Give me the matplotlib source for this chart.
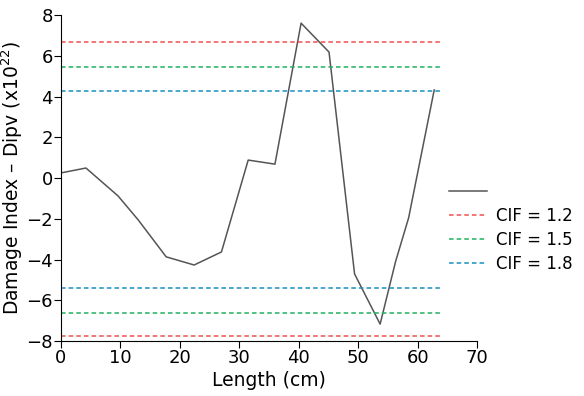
import matplotlib.pyplot as plt
import numpy as np

length = [0, 4.2, 9.6, 13.0, 17.7, 22.4, 27.0, 31.5, 36.0, 40.4, 45.1, 49.4, 53.7, 56.3, 58.5, 62.8]
dipv = [0.25, 0.49, -0.88, -2.06, -3.87, -4.27, -3.63, 0.88, 0.68, 7.6, 6.18, -4.71, -7.17, -4.1, -1.95, 4.32]

cif_labels = ["CIF = 1.2", "CIF = 1.5", "CIF = 1.8"]
cif_upper = [6.69, 5.47, 4.26]
cif_lower = [-7.75, -6.61, -5.38]
cif_colors = ["#f05050", "#20b060", "#1a8fc0"]
line_end = 63.7

plt.rcParams['font.family'] = ['DejaVu Sans']

fig = plt.figure(figsize=(5.84, 3.96), dpi=100)
ax = fig.add_axes([61/584, 1 - 341/396, 416/584, 326/396])

main, = ax.plot(length, dipv, color="#555555", lw=1.1)

handles = [main]
labels = [""]
for lab, up, lo, c in zip(cif_labels, cif_upper, cif_lower, cif_colors):
    h, = ax.plot([0, line_end], [up, up], ls=(0, (3, 2)), color=c, lw=1.1)
    ax.plot([0, line_end], [lo, lo], ls=(0, (3, 2)), color=c, lw=1.1)
    handles.append(h)
    labels.append(lab)

ax.set_xlim(0, 70)
ax.set_ylim(-8, 8)
ax.set_xticks(np.arange(0, 71, 10))
ax.set_yticks(np.arange(-8, 9, 2))
ax.spines['top'].set_visible(False)
ax.spines['right'].set_visible(False)
ax.tick_params(direction='out', length=5, labelsize=13, pad=1)
ax.set_xlabel("Length (cm)", fontsize=13.5, labelpad=3)
ax.set_ylabel("Damage Index \u2013 Dipv (x10$^{22}$)", fontsize=13.5, labelpad=1)

ax.legend(handles, labels, loc='center left', bbox_to_anchor=(0.897, 0.347),
          frameon=False, fontsize=12, handlelength=2.3, labelspacing=0.35,
          handletextpad=0.5)

fig.savefig("out.png", dpi=100)
